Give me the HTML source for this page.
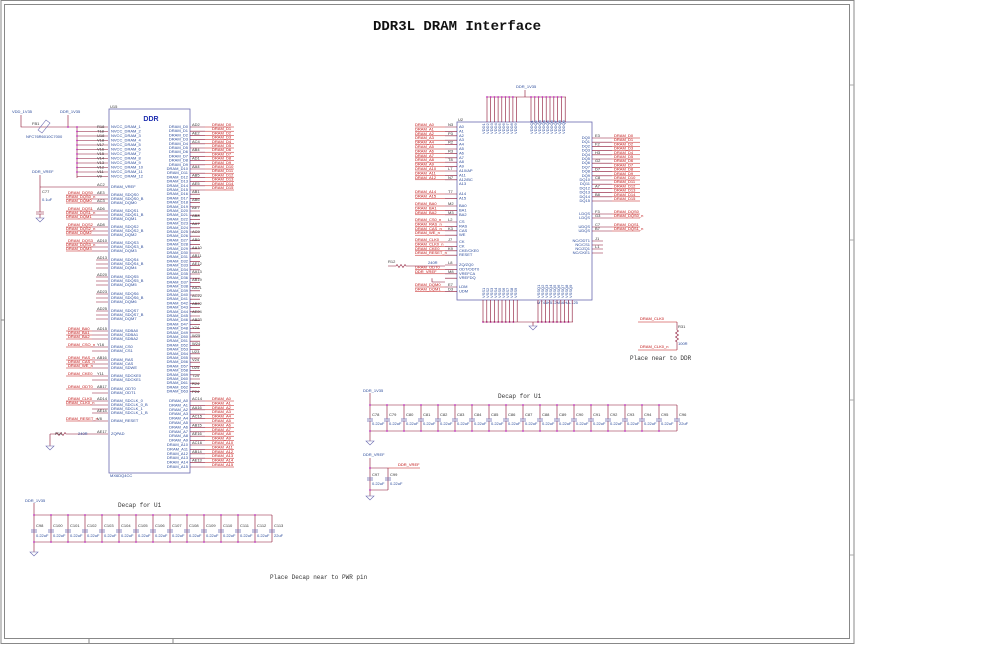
<!DOCTYPE html>
<html><head><meta charset="utf-8"><style>
html,body{margin:0;padding:0;background:#fff;}
svg{display:block;font-family:"Liberation Sans",sans-serif;}
.b{fill:#2a4a9a;font-size:4px;}
.r{fill:#c01010;font-size:4px;}
.k{fill:#333;font-size:4px;}
.m{font-family:"Liberation Mono",monospace;fill:#333;font-size:6px;}
.w{stroke:#8a1030;stroke-width:0.6;fill:none;}
.rl{stroke:#c01010;stroke-width:0.5;}
.bx{stroke:#6a6ab0;stroke-width:0.8;fill:#fff;}
.d{fill:#c030c0;}
.g{stroke:#6a6ab0;stroke-width:0.6;fill:none;}
</style></head><body>
<svg width="998" height="646" viewBox="0 0 998 646" xmlns="http://www.w3.org/2000/svg">
<rect x="1" y="0.5" width="853" height="643" fill="none" stroke="#888" stroke-width="1"/>
<rect x="4.5" y="4.5" width="845" height="634" fill="none" stroke="#888" stroke-width="1"/>
<line x1="89" y1="638" x2="89" y2="643" stroke="#888"/><line x1="173" y1="638" x2="173" y2="643" stroke="#888"/>
<line x1="850" y1="85" x2="854" y2="85" stroke="#aaa"/><line x1="850" y1="240" x2="854" y2="240" stroke="#aaa"/><line x1="850" y1="400" x2="854" y2="400" stroke="#aaa"/><line x1="850" y1="555" x2="854" y2="555" stroke="#aaa"/>
<line x1="1" y1="320" x2="5" y2="320" stroke="#888"/>
<text x="457" y="30" text-anchor="middle" font-family="Liberation Mono,monospace" font-weight="bold" font-size="14" fill="#111">DDR3L DRAM Interface</text>

<!-- U1 -->
<rect class="bx" x="109" y="109" width="81" height="364"/>
<text class="k" x="110" y="108">U15</text>
<text x="151" y="121" text-anchor="middle" font-weight="bold" font-size="7" fill="#2030b0">DDR</text>
<text class="b" x="110" y="477">MX6DQ4CC</text>
<!-- power input -->
<text class="b" x="12" y="113">VDD_1V35</text><text class="b" x="60" y="113">DDR_1V35</text>
<path class="w" d="M21 115 V127 H108 M68 115 V127"/>
<path d="M38 130 l8 -10 l4 3 l-8 10 z" fill="none" stroke="#6a6ab0" stroke-width="0.6"/>
<text class="k" x="32" y="125">FB1</text><text class="b" x="26" y="138">NFC76R6010C7000</text>
<path class="w" d="M77 127 V178 M77 131.5H108 M77 136H108 M77 140.5H108 M77 145H108 M77 149.5H108 M77 154H108 M77 158.5H108 M77 163H108 M77 167.5H108 M77 172H108 M77 176.5H108"/>
<g class="d"><circle cx="77" cy="127" r="0.9"/><circle cx="77" cy="131.5" r="0.9"/><circle cx="77" cy="136" r="0.9"/><circle cx="77" cy="140.5" r="0.9"/><circle cx="77" cy="145" r="0.9"/><circle cx="77" cy="149.5" r="0.9"/><circle cx="77" cy="154" r="0.9"/><circle cx="77" cy="158.5" r="0.9"/><circle cx="77" cy="163" r="0.9"/><circle cx="77" cy="167.5" r="0.9"/><circle cx="77" cy="172" r="0.9"/><circle cx="68" cy="127" r="0.9"/></g>
<g class="b">
<text x="111" y="128">NVCC_DRAM_1</text><text x="111" y="132.5">NVCC_DRAM_2</text><text x="111" y="137">NVCC_DRAM_3</text><text x="111" y="141.5">NVCC_DRAM_4</text><text x="111" y="146">NVCC_DRAM_5</text><text x="111" y="150.5">NVCC_DRAM_6</text><text x="111" y="155">NVCC_DRAM_7</text><text x="111" y="159.5">NVCC_DRAM_8</text><text x="111" y="164">NVCC_DRAM_9</text><text x="111" y="168.5">NVCC_DRAM_10</text><text x="111" y="173">NVCC_DRAM_11</text><text x="111" y="177.5">NVCC_DRAM_12</text>
<text x="111" y="188">DRAM_VREF</text>
<text x="111" y="196">DRAM_SDQS0</text><text x="111" y="200">DRAM_SDQS0_B</text><text x="111" y="204">DRAM_DQM0</text>
<text x="111" y="212">DRAM_SDQS1</text><text x="111" y="216">DRAM_SDQS1_B</text><text x="111" y="220">DRAM_DQM1</text>
<text x="111" y="228">DRAM_SDQS2</text><text x="111" y="232">DRAM_SDQS2_B</text><text x="111" y="236">DRAM_DQM2</text>
<text x="111" y="244">DRAM_SDQS3</text><text x="111" y="248">DRAM_SDQS3_B</text><text x="111" y="252">DRAM_DQM3</text>
<text x="111" y="261">DRAM_SDQS4</text><text x="111" y="265">DRAM_SDQS4_B</text><text x="111" y="269">DRAM_DQM4</text>
<text x="111" y="278">DRAM_SDQS5</text><text x="111" y="282">DRAM_SDQS5_B</text><text x="111" y="286">DRAM_DQM5</text>
<text x="111" y="295">DRAM_SDQS6</text><text x="111" y="299">DRAM_SDQS6_B</text><text x="111" y="303">DRAM_DQM6</text>
<text x="111" y="312">DRAM_SDQS7</text><text x="111" y="316">DRAM_SDQS7_B</text><text x="111" y="320">DRAM_DQM7</text>
<text x="111" y="332">DRAM_SDBA0</text><text x="111" y="336">DRAM_SDBA1</text><text x="111" y="340">DRAM_SDBA2</text>
<text x="111" y="348">DRAM_CS0</text><text x="111" y="352">DRAM_CS1</text>
<text x="111" y="361">DRAM_RAS</text><text x="111" y="365">DRAM_CAS</text><text x="111" y="369">DRAM_SDWE</text>
<text x="111" y="377">DRAM_SDCKE0</text><text x="111" y="381">DRAM_SDCKE1</text>
<text x="111" y="390">DRAM_ODT0</text><text x="111" y="394">DRAM_ODT1</text>
<text x="111" y="402">DRAM_SDCLK_0</text><text x="111" y="406">DRAM_SDCLK_0_B</text><text x="111" y="410">DRAM_SDCLK_1</text><text x="111" y="414">DRAM_SDCLK_1_B</text>
<text x="111" y="422">DRAM_RESET</text><text x="111" y="435">ZQPAD</text>
</g>
<path class="w" d="M40 187H108 M92 195H108 M92 199H108 M92 203H108 M92 211H108 M92 215H108 M92 219H108 M92 227H108 M92 231H108 M92 235H108 M92 243H108 M92 247H108 M92 251H108 M96 260H108 M96 264H108 M96 268H108 M96 277H108 M96 281H108 M96 285H108 M96 294H108 M96 298H108 M96 302H108 M96 311H108 M96 315H108 M96 319H108 M92 331H108 M92 335H108 M92 339H108 M92 347H108 M92 351H108 M92 360H108 M92 364H108 M92 368H108 M92 376H108 M92 380H108 M92 389H108 M92 393H108 M92 401H108 M92 405H108 M92 409H108 M92 413H108 M92 421H108 M88 434H108"/>
<g class="rl"><path d="M66 195H92M66 199H92M66 203H92M66 211H92M66 215H92M66 219H92M66 227H92M66 231H92M66 235H92M66 243H92M66 247H92M66 251H92M66 331H92M66 335H92M66 339H92M66 347H92M66 360H92M66 364H92M66 368H92M66 376H92M66 389H92M66 401H92M66 405H92M66 421H92"/></g>
<g class="r">
<text x="68" y="194">DRAM_DQS0</text><text x="66" y="198">DRAM_DQS0_n</text><text x="66" y="202">DRAM_DQM0</text>
<text x="68" y="210">DRAM_DQS1</text><text x="66" y="214">DRAM_DQS1_n</text><text x="66" y="218">DRAM_DQM1</text>
<text x="68" y="226">DRAM_DQS2</text><text x="66" y="230">DRAM_DQS2_n</text><text x="66" y="234">DRAM_DQM2</text>
<text x="68" y="242">DRAM_DQS3</text><text x="66" y="246">DRAM_DQS3_n</text><text x="66" y="250">DRAM_DQM3</text>
<text x="68" y="330">DRAM_BA0</text><text x="68" y="334">DRAM_BA1</text><text x="68" y="338">DRAM_BA2</text>
<text x="68" y="346">DRAM_CSO_n</text><text x="68" y="359">DRAM_RAS_n</text><text x="68" y="363">DRAM_CAS_n</text><text x="68" y="367">DRAM_WE_n</text>
<text x="68" y="375">DRAM_CKE0</text><text x="68" y="388">DRAM_ODT0</text><text x="68" y="400">DRAM_CLK0</text><text x="66" y="404">DRAM_CLK0_n</text><text x="66" y="420">DRAM_RESET_n</text>
</g>
<text class="b" x="32" y="173">DDR_VREF</text>
<path class="w" d="M40 175V212 M36 212H44 M36 214H44 M40 214V218"/>
<path class="g" d="M36 218H44L40 222Z"/>
<text class="k" x="42" y="193">C77</text><text class="b" x="42" y="201">0.1uF</text>
<path class="w" d="M50 434H56 l1 -1.5 l2 3 l2 -3 l2 3 l2 -3 l1 1.5H88 M50 434V446"/>
<path class="g" d="M46 446H54L50 450Z"/>
<text class="k" x="55" y="435">R14</text><text class="b" x="78" y="435">240R</text>
<g class="k"><text x="97" y="128">R18</text><text x="97" y="132.5">T18</text><text x="97" y="137">U18</text><text x="97" y="141.5">V18</text><text x="97" y="146">V17</text><text x="97" y="150.5">V16</text><text x="97" y="155">V15</text><text x="97" y="159.5">V14</text><text x="97" y="164">V13</text><text x="97" y="168.5">V12</text><text x="97" y="173">V11</text><text x="97" y="177.5">V9</text><text x="97" y="186">AC2</text><text x="97" y="194">AE3</text><text x="97" y="202">AC3</text><text x="97" y="210">AD6</text><text x="97" y="226">AD8</text><text x="97" y="242">AD10</text><text x="97" y="259">AD13</text><text x="97" y="276">AD20</text><text x="97" y="293">AD23</text><text x="97" y="310">AD25</text><text x="97" y="330">AD15</text><text x="97" y="346">Y16</text><text x="97" y="359">AB16</text><text x="97" y="375">Y11</text><text x="97" y="388">AB17</text><text x="97" y="400">AD14</text><text x="97" y="412">AE14</text><text x="97" y="420">V8</text><text x="97" y="433">AE17</text></g>

<!-- U1 right -->
<g class="b" text-anchor="end">
<text x="188" y="128">DRAM_D0</text><text x="188" y="132.2">DRAM_D1</text><text x="188" y="136.4">DRAM_D2</text><text x="188" y="140.6">DRAM_D3</text><text x="188" y="144.8">DRAM_D4</text><text x="188" y="149">DRAM_D5</text><text x="188" y="153.2">DRAM_D6</text><text x="188" y="157.4">DRAM_D7</text><text x="188" y="161.6">DRAM_D8</text><text x="188" y="165.8">DRAM_D9</text><text x="188" y="170">DRAM_D10</text><text x="188" y="174.2">DRAM_D11</text><text x="188" y="178.4">DRAM_D12</text><text x="188" y="182.6">DRAM_D13</text><text x="188" y="186.8">DRAM_D14</text><text x="188" y="191">DRAM_D15</text><text x="188" y="195.2">DRAM_D16</text><text x="188" y="199.4">DRAM_D17</text><text x="188" y="203.6">DRAM_D18</text><text x="188" y="207.8">DRAM_D19</text><text x="188" y="212">DRAM_D20</text><text x="188" y="216.2">DRAM_D21</text><text x="188" y="220.4">DRAM_D22</text><text x="188" y="224.6">DRAM_D23</text><text x="188" y="228.8">DRAM_D24</text><text x="188" y="233">DRAM_D25</text><text x="188" y="237.2">DRAM_D26</text><text x="188" y="241.4">DRAM_D27</text><text x="188" y="245.6">DRAM_D28</text><text x="188" y="249.8">DRAM_D29</text><text x="188" y="254">DRAM_D30</text><text x="188" y="258.2">DRAM_D31</text><text x="188" y="262.4">DRAM_D32</text><text x="188" y="266.6">DRAM_D33</text><text x="188" y="270.8">DRAM_D34</text><text x="188" y="275">DRAM_D35</text><text x="188" y="279.2">DRAM_D36</text><text x="188" y="283.4">DRAM_D37</text><text x="188" y="287.6">DRAM_D38</text><text x="188" y="291.8">DRAM_D39</text><text x="188" y="296">DRAM_D40</text><text x="188" y="300.2">DRAM_D41</text><text x="188" y="304.4">DRAM_D42</text><text x="188" y="308.6">DRAM_D43</text><text x="188" y="312.8">DRAM_D44</text><text x="188" y="317">DRAM_D45</text><text x="188" y="321.2">DRAM_D46</text><text x="188" y="325.4">DRAM_D47</text><text x="188" y="329.6">DRAM_D48</text><text x="188" y="333.8">DRAM_D49</text><text x="188" y="338">DRAM_D50</text><text x="188" y="342.2">DRAM_D51</text><text x="188" y="346.4">DRAM_D52</text><text x="188" y="350.6">DRAM_D53</text><text x="188" y="354.8">DRAM_D54</text><text x="188" y="359">DRAM_D55</text><text x="188" y="363.2">DRAM_D56</text><text x="188" y="367.4">DRAM_D57</text><text x="188" y="371.6">DRAM_D58</text><text x="188" y="375.8">DRAM_D59</text><text x="188" y="380">DRAM_D60</text><text x="188" y="384.2">DRAM_D61</text><text x="188" y="388.4">DRAM_D62</text><text x="188" y="392.6">DRAM_D63</text>
<text x="188" y="402">DRAM_A0</text><text x="188" y="406.4">DRAM_A1</text><text x="188" y="410.8">DRAM_A2</text><text x="188" y="415.2">DRAM_A3</text><text x="188" y="419.6">DRAM_A4</text><text x="188" y="424">DRAM_A5</text><text x="188" y="428.4">DRAM_A6</text><text x="188" y="432.8">DRAM_A7</text><text x="188" y="437.2">DRAM_A8</text><text x="188" y="441.6">DRAM_A9</text><text x="188" y="446">DRAM_A10</text><text x="188" y="450.4">DRAM_A11</text><text x="188" y="454.8">DRAM_A12</text><text x="188" y="459.2">DRAM_A13</text><text x="188" y="463.6">DRAM_A14</text><text x="188" y="468">DRAM_A15</text>
</g>
<path class="w" d="M190 127H205M190 131.2H205M190 135.4H205M190 139.6H205M190 143.8H205M190 148H205M190 152.2H205M190 156.4H205M190 160.6H205M190 164.8H205M190 169H205M190 173.2H205M190 177.4H205M190 181.6H205M190 185.8H205M190 190H205M190 194.2H200M190 198.4H200M190 202.6H200M190 206.8H200M190 211H200M190 215.2H200M190 219.4H200M190 223.6H200M190 227.8H200M190 232H200M190 236.2H200M190 240.4H200M190 244.6H200M190 248.8H200M190 253H200M190 257.2H200M190 261.4H200M190 265.6H200M190 269.8H200M190 274H200M190 278.2H200M190 282.4H200M190 286.6H200M190 290.8H200M190 295H200M190 299.2H200M190 303.4H200M190 307.6H200M190 311.8H200M190 316H200M190 320.2H200M190 324.4H200M190 328.6H200M190 332.8H200M190 337H200M190 341.2H200M190 345.4H200M190 349.6H200M190 353.8H200M190 358H200M190 362.2H200M190 366.4H200M190 370.6H200M190 374.8H200M190 379H200M190 383.2H200M190 387.4H200M190 391.6H200 M190 401H205M190 405.4H205M190 409.8H205M190 414.2H205M190 418.6H205M190 423H205M190 427.4H205M190 431.8H205M190 436.2H205M190 440.6H205M190 445H205M190 449.4H205M190 453.8H205M190 458.2H205M190 462.6H205M190 467H205"/>
<path class="rl" d="M205 127H234M205 131.2H234M205 135.4H234M205 139.6H234M205 143.8H234M205 148H234M205 152.2H234M205 156.4H234M205 160.6H234M205 164.8H234M205 169H234M205 173.2H234M205 177.4H234M205 181.6H234M205 185.8H234M205 190H234 M205 401H234M205 405.4H234M205 409.8H234M205 414.2H234M205 418.6H234M205 423H234M205 427.4H234M205 431.8H234M205 436.2H234M205 440.6H234M205 445H234M205 449.4H234M205 453.8H234M205 458.2H234M205 462.6H234M205 467H234"/>
<g class="r"><text x="212" y="126">DRAM_D0</text><text x="212" y="130.2">DRAM_D1</text><text x="212" y="134.4">DRAM_D2</text><text x="212" y="138.6">DRAM_D3</text><text x="212" y="142.8">DRAM_D4</text><text x="212" y="147">DRAM_D5</text><text x="212" y="151.2">DRAM_D6</text><text x="212" y="155.4">DRAM_D7</text><text x="212" y="159.6">DRAM_D8</text><text x="212" y="163.8">DRAM_D9</text><text x="212" y="168">DRAM_D10</text><text x="212" y="172.2">DRAM_D11</text><text x="212" y="176.4">DRAM_D12</text><text x="212" y="180.6">DRAM_D13</text><text x="212" y="184.8">DRAM_D14</text><text x="212" y="189">DRAM_D15</text>
<text x="212" y="400">DRAM_A0</text><text x="212" y="404.4">DRAM_A1</text><text x="212" y="408.8">DRAM_A2</text><text x="212" y="413.2">DRAM_A3</text><text x="212" y="417.6">DRAM_A4</text><text x="212" y="422">DRAM_A5</text><text x="212" y="426.4">DRAM_A6</text><text x="212" y="430.8">DRAM_A7</text><text x="212" y="435.2">DRAM_A8</text><text x="212" y="439.6">DRAM_A9</text><text x="212" y="444">DRAM_A10</text><text x="212" y="448.4">DRAM_A11</text><text x="212" y="452.8">DRAM_A12</text><text x="212" y="457.2">DRAM_A13</text><text x="212" y="461.6">DRAM_A14</text><text x="212" y="466">DRAM_A15</text></g>
<g class="k"><text x="192" y="126">AD2</text><text x="192" y="134.4">AE2</text><text x="192" y="142.8">AC4</text><text x="192" y="151.2">AB4</text><text x="192" y="159.6">AD1</text><text x="192" y="168">AA4</text><text x="192" y="176.4">AB5</text><text x="192" y="184.8">AE5</text><text x="192" y="193">AB1</text><text x="192" y="201">AB6</text><text x="192" y="209">AE7</text><text x="192" y="217">AB8</text><text x="192" y="225">AA7</text><text x="192" y="233">AC9</text><text x="192" y="241">AB9</text><text x="192" y="249">AA10</text><text x="192" y="257">AB11</text><text x="192" y="265">AE12</text><text x="192" y="273">AA13</text><text x="192" y="281">AB19</text><text x="192" y="289">AA21</text><text x="192" y="297">AC22</text><text x="192" y="305">AB22</text><text x="192" y="313">AE24</text><text x="192" y="321">AB23</text><text x="192" y="329">Y24</text><text x="192" y="337">W25</text><text x="192" y="345">W24</text><text x="192" y="353">U23</text><text x="192" y="361">V24</text><text x="192" y="369">U25</text><text x="192" y="377">T24</text><text x="192" y="385">R24</text><text x="192" y="393">P24</text><text x="192" y="400">AC14</text><text x="192" y="408.8">AA16</text><text x="192" y="417.6">AC15</text><text x="192" y="426.4">AB15</text><text x="192" y="435.2">AE16</text><text x="192" y="444">AC16</text><text x="192" y="452.8">AB14</text><text x="192" y="461.6">AE13</text></g>

<!-- U2 -->
<rect class="bx" x="457" y="122" width="135" height="178"/>
<text class="k" x="458" y="121">U2</text>
<text class="b" x="537" y="304">MT41K512M16HA-125</text>
<text class="b" x="516" y="88">DDR_1V35</text>
<path class="w" d="M525 90V97 M487 97H566 M487 97V122M490.7 97V122M494.4 97V122M498.1 97V122M501.8 97V122M505.5 97V122M509.2 97V122M512.9 97V122M516.6 97V122 M531 97V122M534.8 97V122M538.6 97V122M542.4 97V122M546.2 97V122M550 97V122M553.8 97V122M557.6 97V122M561.4 97V122M565.2 97V122"/>
<g class="d"><circle cx="487" cy="97" r="0.9"/><circle cx="490.7" cy="97" r="0.9"/><circle cx="494.4" cy="97" r="0.9"/><circle cx="498.1" cy="97" r="0.9"/><circle cx="501.8" cy="97" r="0.9"/><circle cx="505.5" cy="97" r="0.9"/><circle cx="509.2" cy="97" r="0.9"/><circle cx="512.9" cy="97" r="0.9"/><circle cx="531" cy="97" r="0.9"/><circle cx="534.8" cy="97" r="0.9"/><circle cx="538.6" cy="97" r="0.9"/><circle cx="542.4" cy="97" r="0.9"/><circle cx="546.2" cy="97" r="0.9"/><circle cx="550" cy="97" r="0.9"/><circle cx="553.8" cy="97" r="0.9"/><circle cx="557.6" cy="97" r="0.9"/><circle cx="561.4" cy="97" r="0.9"/>
<circle cx="483" cy="322" r="0.9"/><circle cx="486.8" cy="322" r="0.9"/><circle cx="490.6" cy="322" r="0.9"/><circle cx="494.4" cy="322" r="0.9"/><circle cx="498.2" cy="322" r="0.9"/><circle cx="502" cy="322" r="0.9"/><circle cx="505.8" cy="322" r="0.9"/><circle cx="509.6" cy="322" r="0.9"/><circle cx="513.4" cy="322" r="0.9"/><circle cx="538" cy="322" r="0.9"/><circle cx="541.8" cy="322" r="0.9"/><circle cx="545.6" cy="322" r="0.9"/><circle cx="549.4" cy="322" r="0.9"/><circle cx="553.2" cy="322" r="0.9"/><circle cx="557" cy="322" r="0.9"/><circle cx="560.8" cy="322" r="0.9"/><circle cx="564.6" cy="322" r="0.9"/><circle cx="568.4" cy="322" r="0.9"/></g>
<g class="b" font-size="3.5"><text x="485" y="134" transform="rotate(-90 485 134)">VDD1</text><text x="489" y="134" transform="rotate(-90 489 134)">VDD2</text><text x="493" y="134" transform="rotate(-90 493 134)">VDD3</text><text x="497" y="134" transform="rotate(-90 497 134)">VDD4</text><text x="501" y="134" transform="rotate(-90 501 134)">VDD5</text><text x="505" y="134" transform="rotate(-90 505 134)">VDD6</text><text x="509" y="134" transform="rotate(-90 509 134)">VDD7</text><text x="513" y="134" transform="rotate(-90 513 134)">VDD8</text><text x="517" y="134" transform="rotate(-90 517 134)">VDD9</text>
<text x="533" y="134" transform="rotate(-90 533 134)">VDDQ1</text><text x="537" y="134" transform="rotate(-90 537 134)">VDDQ2</text><text x="541" y="134" transform="rotate(-90 541 134)">VDDQ3</text><text x="545" y="134" transform="rotate(-90 545 134)">VDDQ4</text><text x="549" y="134" transform="rotate(-90 549 134)">VDDQ5</text><text x="553" y="134" transform="rotate(-90 553 134)">VDDQ6</text><text x="557" y="134" transform="rotate(-90 557 134)">VDDQ7</text><text x="561" y="134" transform="rotate(-90 561 134)">VDDQ8</text><text x="565" y="134" transform="rotate(-90 565 134)">VDDQ9</text>
<text x="485" y="298" transform="rotate(-90 485 298)">VSS1</text><text x="489" y="298" transform="rotate(-90 489 298)">VSS2</text><text x="493" y="298" transform="rotate(-90 493 298)">VSS3</text><text x="497" y="298" transform="rotate(-90 497 298)">VSS4</text><text x="501" y="298" transform="rotate(-90 501 298)">VSS5</text><text x="505" y="298" transform="rotate(-90 505 298)">VSS6</text><text x="509" y="298" transform="rotate(-90 509 298)">VSS7</text><text x="513" y="298" transform="rotate(-90 513 298)">VSS8</text><text x="517" y="298" transform="rotate(-90 517 298)">VSS9</text>
<text x="540" y="298" transform="rotate(-90 540 298)">VSSQ1</text><text x="544" y="298" transform="rotate(-90 544 298)">VSSQ2</text><text x="548" y="298" transform="rotate(-90 548 298)">VSSQ3</text><text x="552" y="298" transform="rotate(-90 552 298)">VSSQ4</text><text x="556" y="298" transform="rotate(-90 556 298)">VSSQ5</text><text x="560" y="298" transform="rotate(-90 560 298)">VSSQ6</text><text x="564" y="298" transform="rotate(-90 564 298)">VSSQ7</text><text x="568" y="298" transform="rotate(-90 568 298)">VSSQ8</text><text x="572" y="298" transform="rotate(-90 572 298)">VSSQ9</text></g>
<path class="w" d="M483 300V322M486.8 300V322M490.6 300V322M494.4 300V322M498.2 300V322M502 300V322M505.8 300V322M509.6 300V322M513.4 300V322M517.2 300V322 M538 300V322M541.8 300V322M545.6 300V322M549.4 300V322M553.2 300V322M557 300V322M560.8 300V322M564.6 300V322M568.4 300V322M572.2 300V322 M483 322H573 M533 322V326"/>
<path class="g" d="M529 326H537L533 330Z"/>
<!-- U2 left -->
<path class="w" d="M445 127H457M445 131.4H457M445 135.8H457M445 140.2H457M445 144.6H457M445 149H457M445 153.4H457M445 157.8H457M445 162.2H457M445 166.6H457M445 171H457M445 175.4H457M445 179.8H457M445 194H457M445 198.4H457M445 206H457M445 210.4H457M445 214.8H457M445 222H457M445 226.4H457M445 230.8H457M445 235.2H457M445 242H457M445 246.4H457M445 250.8H457M445 255.2H457M445 265H457M445 269.4H457M445 273.8H457M445 278.2H457M445 287H457M445 291.4H457"/>
<path class="rl" d="M415 127H445M415 131.4H445M415 135.8H445M415 140.2H445M415 144.6H445M415 149H445M415 153.4H445M415 157.8H445M415 162.2H445M415 166.6H445M415 171H445M415 175.4H445M415 179.8H445M415 194H445M415 198.4H445M415 206H445M415 210.4H445M415 214.8H445M415 222H445M415 226.4H445M415 230.8H445M415 235.2H445M415 242H445M415 246.4H445M415 250.8H445M415 255.2H445M415 269.4H445M415 273.8H445M415 287H445M415 291.4H445"/>
<g class="r"><text x="415" y="126">DRAM_A0</text><text x="415" y="130.4">DRAM_A1</text><text x="415" y="134.8">DRAM_A2</text><text x="415" y="139.2">DRAM_A3</text><text x="415" y="143.6">DRAM_A4</text><text x="415" y="148">DRAM_A5</text><text x="415" y="152.4">DRAM_A6</text><text x="415" y="156.8">DRAM_A7</text><text x="415" y="161.2">DRAM_A8</text><text x="415" y="165.6">DRAM_A9</text><text x="415" y="170">DRAM_A10</text><text x="415" y="174.4">DRAM_A11</text><text x="415" y="178.8">DRAM_A12</text><text x="415" y="193">DRAM_A14</text><text x="415" y="197.4">DRAM_A15</text><text x="415" y="205">DRAM_BA0</text><text x="415" y="209.4">DRAM_BA1</text><text x="415" y="213.8">DRAM_BA2</text><text x="415" y="221">DRAM_CS0_n</text><text x="415" y="225.4">DRAM_RAS_n</text><text x="415" y="229.8">DRAM_CAS_n</text><text x="415" y="234.2">DRAM_WE_n</text><text x="415" y="241">DRAM_CLK0</text><text x="415" y="245.4">DRAM_CLK0_n</text><text x="415" y="249.8">DRAM_CKE0</text><text x="415" y="254.2">DRAM_RESET_n</text><text x="415" y="268.4">DRAM_ODT0</text><text x="415" y="272.8">DDR_VREF</text><text x="415" y="286">DRAM_DQM0</text><text x="415" y="290.4">DRAM_DQM1</text></g>
<g class="b"><text x="459" y="128">A0</text><text x="459" y="132.4">A1</text><text x="459" y="136.8">A2</text><text x="459" y="141.2">A3</text><text x="459" y="145.6">A4</text><text x="459" y="150">A5</text><text x="459" y="154.4">A6</text><text x="459" y="158.8">A7</text><text x="459" y="163.2">A8</text><text x="459" y="167.6">A9</text><text x="459" y="172">A10/AP</text><text x="459" y="176.4">A11</text><text x="459" y="180.8">A12/BC</text><text x="459" y="185.2">A13</text><text x="459" y="195">A14</text><text x="459" y="199.4">A15</text><text x="459" y="207">BA0</text><text x="459" y="211.4">BA1</text><text x="459" y="215.8">BA2</text><text x="459" y="223">CS</text><text x="459" y="227.4">RAS</text><text x="459" y="231.8">CAS</text><text x="459" y="236.2">WE</text><text x="459" y="243">CK</text><text x="459" y="247.4">CK</text><text x="459" y="251.8">CKE/CKE0</text><text x="459" y="256.2">RESET</text><text x="459" y="266">ZQ/ZQ0</text><text x="459" y="270.4">ODT/ODT0</text><text x="459" y="274.8">VREFCA</text><text x="459" y="279.2">VREFDQ</text><text x="459" y="288">LDM</text><text x="459" y="292.4">UDM</text></g>
<g class="k"><text x="448" y="126">N3</text><text x="448" y="134.8">P3</text><text x="448" y="143.6">R2</text><text x="448" y="152.4">R3</text><text x="448" y="161.2">T8</text><text x="448" y="170">L7</text><text x="448" y="178.8">N7</text><text x="448" y="193">T7</text><text x="448" y="205">M2</text><text x="448" y="213.8">M3</text><text x="448" y="221">L2</text><text x="448" y="229.8">K3</text><text x="448" y="241">J7</text><text x="448" y="249.8">K9</text><text x="448" y="264">L8</text><text x="448" y="272.8">M8</text><text x="448" y="286">E7</text><text x="448" y="290.4">D3</text></g>
<path class="w" d="M388 266H396 l1 -1.5 l2 3 l2 -3 l2 3 l2 -3 l1 1.5 H445 M432 278.2V282H445"/>
<text class="k" x="388" y="263">R12</text><text class="b" x="428" y="264">240R</text>
<!-- U2 right -->
<g class="b" text-anchor="end"><text x="590" y="139">DQ0</text><text x="590" y="143.2">DQ1</text><text x="590" y="147.4">DQ2</text><text x="590" y="151.6">DQ3</text><text x="590" y="155.8">DQ4</text><text x="590" y="160">DQ5</text><text x="590" y="164.2">DQ6</text><text x="590" y="168.4">DQ7</text><text x="590" y="172.6">DQ8</text><text x="590" y="176.8">DQ9</text><text x="590" y="181">DQ10</text><text x="590" y="185.2">DQ11</text><text x="590" y="189.4">DQ12</text><text x="590" y="193.6">DQ13</text><text x="590" y="197.8">DQ14</text><text x="590" y="202">DQ15</text><text x="590" y="215">LDQS</text><text x="590" y="219">LDQS</text><text x="590" y="228">UDQS</text><text x="590" y="232">UDQS</text><text x="590" y="242">NC/ODT1</text><text x="590" y="246">NC/CS1</text><text x="590" y="250">NC/ZQ1</text><text x="590" y="254">NC/CKE1</text></g>
<path class="w" d="M592 138H612M592 142.2H612M592 146.4H612M592 150.6H612M592 154.8H612M592 159H612M592 163.2H612M592 167.4H612M592 171.6H612M592 175.8H612M592 180H612M592 184.2H612M592 188.4H612M592 192.6H612M592 196.8H612M592 201H612M592 214H612M592 218H612M592 227H612M592 231H612M592 241H603M592 245H603M592 249H603M592 253H603"/>
<path class="rl" d="M612 138H640M612 142.2H640M612 146.4H640M612 150.6H640M612 154.8H640M612 159H640M612 163.2H640M612 167.4H640M612 171.6H640M612 175.8H640M612 180H640M612 184.2H640M612 188.4H640M612 192.6H640M612 196.8H640M612 201H640M612 214H640M612 218H640M612 227H640M612 231H640"/>
<g class="r"><text x="614" y="137">DRAM_D0</text><text x="614" y="141.2">DRAM_D1</text><text x="614" y="145.4">DRAM_D2</text><text x="614" y="149.6">DRAM_D3</text><text x="614" y="153.8">DRAM_D4</text><text x="614" y="158">DRAM_D5</text><text x="614" y="162.2">DRAM_D6</text><text x="614" y="166.4">DRAM_D7</text><text x="614" y="170.6">DRAM_D8</text><text x="614" y="174.8">DRAM_D9</text><text x="614" y="179">DRAM_D10</text><text x="614" y="183.2">DRAM_D11</text><text x="614" y="187.4">DRAM_D12</text><text x="614" y="191.6">DRAM_D13</text><text x="614" y="195.8">DRAM_D14</text><text x="614" y="200">DRAM_D15</text><text x="614" y="213">DRAM_DQS0</text><text x="614" y="217">DRAM_DQS0_n</text><text x="614" y="226">DRAM_DQS1</text><text x="614" y="230">DRAM_DQS1_n</text></g>
<g class="k"><text x="595" y="137">E3</text><text x="595" y="145.4">F2</text><text x="595" y="153.8">H3</text><text x="595" y="162.2">G2</text><text x="595" y="170.6">D7</text><text x="595" y="179">C8</text><text x="595" y="187.4">A7</text><text x="595" y="195.8">B8</text><text x="595" y="213">F3</text><text x="595" y="217">G3</text><text x="595" y="226">C7</text><text x="595" y="230">B7</text><text x="595" y="240">J1</text><text x="595" y="248">L1</text></g>
<!-- clk termination -->
<path class="rl" d="M638 322H677 M638 350H677"/>
<path class="w" d="M677 322V330 l1.5 1 l-3 2 l3 2 l-3 2 l3 2 l-3 2 l1.5 1 V350"/>
<text class="r" x="640" y="320">DRAM_CLK0</text><text class="r" x="640" y="348">DRAM_CLK0_n</text>
<text class="k" x="678" y="328">R31</text><text class="b" x="678" y="345">100R</text>
<text class="m" x="630" y="360" font-size="5.5">Place near to DDR</text>

<!-- Right decap -->
<text class="b" x="363" y="392">DDR_1V35</text>
<text class="m" x="498" y="398" font-size="5.5">Decap for U1</text>
<path class="w" d="M370 393V441 M370 405H677 M370 431H677 M370 405V431M387 405V431M404 405V431M421 405V431M438 405V431M455 405V431M472 405V431M489 405V431M506 405V431M523 405V431M540 405V431M557 405V431M574 405V431M591 405V431M608 405V431M625 405V431M642 405V431M659 405V431M677 405V431"/>
<g stroke="#fff" stroke-width="1.2"><path d="M370 419.5v1M387 419.5v1M404 419.5v1M421 419.5v1M438 419.5v1M455 419.5v1M472 419.5v1M489 419.5v1M506 419.5v1M523 419.5v1M540 419.5v1M557 419.5v1M574 419.5v1M591 419.5v1M608 419.5v1M625 419.5v1M642 419.5v1M659 419.5v1M677 419.5v1"/></g>
<g stroke="#6a6ab0" stroke-width="0.7"><path d="M367 419H373M367 421H373M384 419H390M384 421H390M401 419H407M401 421H407M418 419H424M418 421H424M435 419H441M435 421H441M452 419H458M452 421H458M469 419H475M469 421H475M486 419H492M486 421H492M503 419H509M503 421H509M520 419H526M520 421H526M537 419H543M537 421H543M554 419H560M554 421H560M571 419H577M571 421H577M588 419H594M588 421H594M605 419H611M605 421H611M622 419H628M622 421H628M639 419H645M639 421H645M656 419H662M656 421H662M674 419H680M674 421H680"/></g>
<g class="d"><circle cx="370" cy="405" r="0.9"/><circle cx="387" cy="405" r="0.9"/><circle cx="404" cy="405" r="0.9"/><circle cx="421" cy="405" r="0.9"/><circle cx="438" cy="405" r="0.9"/><circle cx="455" cy="405" r="0.9"/><circle cx="472" cy="405" r="0.9"/><circle cx="489" cy="405" r="0.9"/><circle cx="506" cy="405" r="0.9"/><circle cx="523" cy="405" r="0.9"/><circle cx="540" cy="405" r="0.9"/><circle cx="557" cy="405" r="0.9"/><circle cx="574" cy="405" r="0.9"/><circle cx="591" cy="405" r="0.9"/><circle cx="608" cy="405" r="0.9"/><circle cx="625" cy="405" r="0.9"/><circle cx="642" cy="405" r="0.9"/><circle cx="659" cy="405" r="0.9"/>
<circle cx="370" cy="431" r="0.9"/><circle cx="387" cy="431" r="0.9"/><circle cx="404" cy="431" r="0.9"/><circle cx="421" cy="431" r="0.9"/><circle cx="438" cy="431" r="0.9"/><circle cx="455" cy="431" r="0.9"/><circle cx="472" cy="431" r="0.9"/><circle cx="489" cy="431" r="0.9"/><circle cx="506" cy="431" r="0.9"/><circle cx="523" cy="431" r="0.9"/><circle cx="540" cy="431" r="0.9"/><circle cx="557" cy="431" r="0.9"/><circle cx="574" cy="431" r="0.9"/><circle cx="591" cy="431" r="0.9"/><circle cx="608" cy="431" r="0.9"/><circle cx="625" cy="431" r="0.9"/><circle cx="642" cy="431" r="0.9"/><circle cx="659" cy="431" r="0.9"/></g>
<g class="k"><text x="372" y="416">C78</text><text x="389" y="416">C79</text><text x="406" y="416">C80</text><text x="423" y="416">C81</text><text x="440" y="416">C82</text><text x="457" y="416">C83</text><text x="474" y="416">C84</text><text x="491" y="416">C85</text><text x="508" y="416">C86</text><text x="525" y="416">C87</text><text x="542" y="416">C88</text><text x="559" y="416">C89</text><text x="576" y="416">C90</text><text x="593" y="416">C91</text><text x="610" y="416">C92</text><text x="627" y="416">C93</text><text x="644" y="416">C94</text><text x="661" y="416">C95</text><text x="679" y="416">C96</text></g>
<g class="b"><text x="372" y="425">0.22uF</text><text x="389" y="425">0.22uF</text><text x="406" y="425">0.22uF</text><text x="423" y="425">0.22uF</text><text x="440" y="425">0.22uF</text><text x="457" y="425">0.22uF</text><text x="474" y="425">0.22uF</text><text x="491" y="425">0.22uF</text><text x="508" y="425">0.22uF</text><text x="525" y="425">0.22uF</text><text x="542" y="425">0.22uF</text><text x="559" y="425">0.22uF</text><text x="576" y="425">0.22uF</text><text x="593" y="425">0.22uF</text><text x="610" y="425">0.22uF</text><text x="627" y="425">0.22uF</text><text x="644" y="425">0.22uF</text><text x="661" y="425">0.22uF</text><text x="679" y="425">22uF</text></g>
<path class="g" d="M366 441H374L370 445Z"/>
<!-- VREF caps -->
<text class="b" x="363" y="456">DDR_VREF</text>
<path class="w" d="M370 458V496 M370 468H388 M388 468V490 M370 490H388"/>
<path class="rl" d="M388 468H420"/>
<text class="r" x="398" y="466">DDR_VREF</text>
<g stroke="#6a6ab0" stroke-width="0.7"><path d="M367 478H373M367 480H373M385 478H391M385 480H391"/></g>
<g class="d"><circle cx="370" cy="468" r="0.9"/><circle cx="370" cy="490" r="0.9"/></g>
<text class="k" x="372" y="476">C97</text><text class="k" x="390" y="476">C99</text><text class="b" x="372" y="485">0.22uF</text><text class="b" x="390" y="485">0.22uF</text>
<path class="g" d="M366 496H374L370 500Z"/>

<!-- Left decap -->
<text class="b" x="25" y="502">DDR_1V35</text>
<text class="m" x="118" y="507" font-size="5.5">Decap for U1</text>
<path class="w" d="M34 503V552 M34 515H272 M34 542H272 M34 515V542M51 515V542M68 515V542M85 515V542M102 515V542M119 515V542M136 515V542M153 515V542M170 515V542M187 515V542M204 515V542M221 515V542M238 515V542M255 515V542M272 515V542"/>
<g stroke="#6a6ab0" stroke-width="0.7"><path d="M31 530H37M31 532H37M48 530H54M48 532H54M65 530H71M65 532H71M82 530H88M82 532H88M99 530H105M99 532H105M116 530H122M116 532H122M133 530H139M133 532H139M150 530H156M150 532H156M167 530H173M167 532H173M184 530H190M184 532H190M201 530H207M201 532H207M218 530H224M218 532H224M235 530H241M235 532H241M252 530H258M252 532H258M269 530H275M269 532H275"/></g>
<g class="d"><circle cx="34" cy="515" r="0.9"/><circle cx="51" cy="515" r="0.9"/><circle cx="68" cy="515" r="0.9"/><circle cx="85" cy="515" r="0.9"/><circle cx="102" cy="515" r="0.9"/><circle cx="119" cy="515" r="0.9"/><circle cx="136" cy="515" r="0.9"/><circle cx="153" cy="515" r="0.9"/><circle cx="170" cy="515" r="0.9"/><circle cx="187" cy="515" r="0.9"/><circle cx="204" cy="515" r="0.9"/><circle cx="221" cy="515" r="0.9"/><circle cx="238" cy="515" r="0.9"/><circle cx="255" cy="515" r="0.9"/>
<circle cx="34" cy="542" r="0.9"/><circle cx="51" cy="542" r="0.9"/><circle cx="68" cy="542" r="0.9"/><circle cx="85" cy="542" r="0.9"/><circle cx="102" cy="542" r="0.9"/><circle cx="119" cy="542" r="0.9"/><circle cx="136" cy="542" r="0.9"/><circle cx="153" cy="542" r="0.9"/><circle cx="170" cy="542" r="0.9"/><circle cx="187" cy="542" r="0.9"/><circle cx="204" cy="542" r="0.9"/><circle cx="221" cy="542" r="0.9"/><circle cx="238" cy="542" r="0.9"/><circle cx="255" cy="542" r="0.9"/></g>
<g class="k"><text x="36" y="527">C98</text><text x="53" y="527">C100</text><text x="70" y="527">C101</text><text x="87" y="527">C102</text><text x="104" y="527">C103</text><text x="121" y="527">C104</text><text x="138" y="527">C105</text><text x="155" y="527">C106</text><text x="172" y="527">C107</text><text x="189" y="527">C108</text><text x="206" y="527">C109</text><text x="223" y="527">C110</text><text x="240" y="527">C111</text><text x="257" y="527">C112</text><text x="274" y="527">C113</text></g>
<g class="b"><text x="36" y="537">0.22uF</text><text x="53" y="537">0.22uF</text><text x="70" y="537">0.22uF</text><text x="87" y="537">0.22uF</text><text x="104" y="537">0.22uF</text><text x="121" y="537">0.22uF</text><text x="138" y="537">0.22uF</text><text x="155" y="537">0.22uF</text><text x="172" y="537">0.22uF</text><text x="189" y="537">0.22uF</text><text x="206" y="537">0.22uF</text><text x="223" y="537">0.22uF</text><text x="240" y="537">0.22uF</text><text x="257" y="537">0.22uF</text><text x="274" y="537">22uF</text></g>
<path class="g" d="M30 552H38L34 556Z"/>
<text class="m" x="270" y="579" font-size="5.5">Place Decap near to PWR pin</text>
</svg>
</body></html>
